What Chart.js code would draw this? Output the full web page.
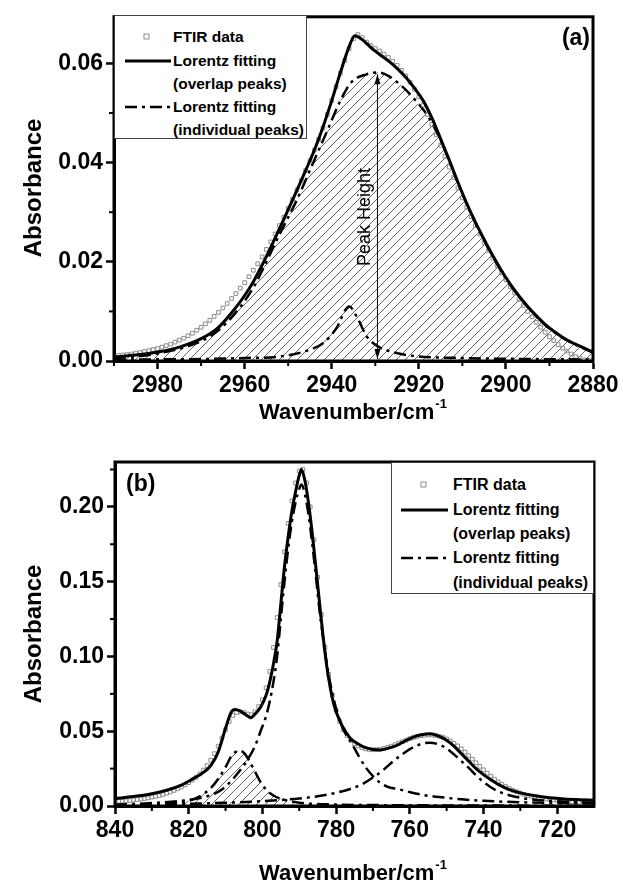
<!DOCTYPE html>
<html>
<head>
<meta charset="utf-8">
<script src="https://cdn.jsdelivr.net/npm/chart.js@4.4.1/dist/chart.umd.min.js"></script>
<style>
  html, body { margin: 0; padding: 0; background: #fff; }
  body { width: 623px; height: 890px; position: relative; overflow: hidden;
         font-family: 'Liberation Sans', Arial, Helvetica, sans-serif; color: #000; }
  .panel { position: absolute; left: 0; width: 623px; }
  .txt { position: absolute; white-space: nowrap; line-height: 1; }
  .ytitle { font-weight: bold; font-size: 24px; transform: translate(-50%, -50%) rotate(-90deg); }
  .xtitle { font-weight: bold; font-size: 22px; transform: translate(-50%, -50%); }
  .xtitle sup { font-size: 13px; vertical-align: 0; position: relative; top: -11px; margin-left: 1px; }
  .tag { font-weight: bold; font-size: 23px; transform: translateY(-50%); }
  .peak { font-size: 18px; transform: translate(-50%, -50%) rotate(-90deg); }
  .legend { position: absolute; background: #fff; border: 1px solid #444; box-sizing: border-box; }
  .legend .row { position: absolute; font-weight: bold; white-space: nowrap; line-height: 1; transform: translateY(-50%); }
  .legend svg { position: absolute; overflow: visible; }
</style>
</head>
<body>

<div class="panel" style="top:0;height:440px"><canvas id="chartA" width="623" height="440"></canvas></div>
<div class="panel" style="top:440px;height:450px"><canvas id="chartB" width="623" height="450"></canvas></div>

<!-- axis titles -->
<div class="txt ytitle" style="left:33px;top:188px">Absorbance</div>
<div class="txt xtitle" style="left:353px;top:412px">Wavenumber/cm<sup>-1</sup></div>
<div class="txt ytitle" style="left:33px;top:634px">Absorbance</div>
<div class="txt xtitle" style="left:353px;top:873px">Wavenumber/cm<sup>-1</sup></div>

<div class="txt tag" style="right:33px;top:37px">(a)</div>
<div class="txt tag" style="left:126px;top:483px">(b)</div>
<div class="txt peak" style="left:364px;top:217px">Peak Height</div>

<!-- legend (a) -->
<div class="legend" style="left:114px;top:15px;width:193px;height:124px;font-size:15.5px">
  <svg style="left:0;top:0" width="60" height="124">
    <rect x="29" y="18" width="5" height="5" fill="none" stroke="#8c8c8c" stroke-width="1"/>
    <line x1="10" y1="45" x2="56" y2="45" stroke="#000" stroke-width="3"/>
    <line x1="10" y1="91" x2="56" y2="91" stroke="#000" stroke-width="2.5" stroke-dasharray="12 5 3 5"/>
  </svg>
  <div class="row" style="left:58px;top:21px">FTIR data</div>
  <div class="row" style="left:58px;top:45px">Lorentz fitting</div>
  <div class="row" style="left:58px;top:68px">(overlap peaks)</div>
  <div class="row" style="left:58px;top:91px">Lorentz fitting</div>
  <div class="row" style="left:58px;top:114px">(individual peaks)</div>
</div>

<!-- legend (b) -->
<div class="legend" style="left:391px;top:462px;width:203px;height:132px;font-size:16px">
  <svg style="left:0;top:0" width="60" height="132">
    <rect x="29" y="19" width="5" height="5" fill="none" stroke="#8c8c8c" stroke-width="1"/>
    <line x1="9" y1="47" x2="56" y2="47" stroke="#000" stroke-width="3"/>
    <line x1="9" y1="95" x2="56" y2="95" stroke="#000" stroke-width="2.5" stroke-dasharray="12 5 3 5"/>
  </svg>
  <div class="row" style="left:61px;top:22px">FTIR data</div>
  <div class="row" style="left:61px;top:47px">Lorentz fitting</div>
  <div class="row" style="left:61px;top:71px">(overlap peaks)</div>
  <div class="row" style="left:61px;top:95px">Lorentz fitting</div>
  <div class="row" style="left:61px;top:120px">(individual peaks)</div>
</div>

<script>
/* =======================
   DATA (a) : C-H stretch region
======================= */

const aXTicks = { min: 2880, max: 2990, step: 20 };
const aYTicks = { min: 0, max: 0.0694, step: 0.02 };
const aMinorX = [2990, 2970, 2950, 2930, 2910, 2890];
const aMinorY = [0.01, 0.03, 0.05];

// FTIR data, one point per cm-1 from 2990 down to 2880
const aFtirStart = 2990;
const aFtirEnd = 2880;
const aFtir = [
  0.0010, 0.0011, 0.0012, 0.0013, 0.0014, 0.0016, 0.0017, 0.0019, 0.0021, 0.0023,
  0.0025, 0.0028, 0.0031, 0.0034, 0.0038, 0.0042, 0.0046, 0.0051, 0.0056, 0.0062,
  0.0068, 0.0075, 0.0082, 0.0090, 0.0098, 0.0107, 0.0116, 0.0126, 0.0136, 0.0147,
  0.0158, 0.0170, 0.0183, 0.0196, 0.0210, 0.0225, 0.0240, 0.0256, 0.0273, 0.0290,
  0.0308, 0.0326, 0.0345, 0.0364, 0.0384, 0.0404, 0.0425, 0.0447, 0.0470, 0.0497,
  0.0525, 0.0553, 0.0580, 0.0606, 0.0630, 0.0650, 0.0658, 0.0652, 0.0643, 0.0636,
  0.0630, 0.0625, 0.0619, 0.0612, 0.0604, 0.0596, 0.0586, 0.0575, 0.0562, 0.0548,
  0.0533, 0.0516, 0.0497, 0.0477, 0.0456, 0.0435, 0.0413, 0.0391, 0.0370, 0.0349,
  0.0329, 0.0310, 0.0291, 0.0273, 0.0256, 0.0239, 0.0223, 0.0207, 0.0192, 0.0178,
  0.0164, 0.0150, 0.0137, 0.0124, 0.0112, 0.0100, 0.0089, 0.0078, 0.0068, 0.0058,
  0.0049, 0.0041, 0.0033, 0.0026, 0.0020, 0.0014, 0.0009, 0.0005, 0.0002, 0.0001,
  0.0000
];

// Lorentz fitting (overlap peaks)
const aWaveFit = [2990, 2985, 2980, 2975, 2970, 2966, 2962, 2960, 2958, 2956,
  2954, 2952, 2950, 2948, 2946, 2944, 2942, 2940, 2938, 2936,
  2934.7, 2933, 2931, 2929, 2927, 2925, 2923, 2921, 2919, 2917,
  2915, 2913, 2911, 2909, 2907, 2905, 2903, 2901, 2899, 2897,
  2895, 2893, 2891, 2889, 2887, 2885, 2883, 2880];
const aOverlap = [0.0008, 0.0012, 0.0018, 0.0028, 0.0045, 0.0068, 0.0108, 0.0132, 0.016, 0.0193,
  0.0229, 0.0267, 0.0305, 0.0344, 0.0384, 0.0425, 0.0472, 0.0525, 0.0582, 0.0634,
  0.0656, 0.0648, 0.0632, 0.0618, 0.0605, 0.059, 0.0572, 0.055, 0.0525, 0.049,
  0.0448, 0.0405, 0.036, 0.0318, 0.028, 0.0245, 0.0212, 0.0182, 0.0155, 0.0131,
  0.011, 0.0091, 0.0074, 0.006, 0.0048, 0.0038, 0.003, 0.0018];

// individual peak, main (hatched)
const aWaveBig = [2990, 2980, 2970, 2966, 2962, 2958, 2955, 2952, 2948, 2944,
  2941, 2938, 2935.5, 2932, 2929.5, 2927, 2924, 2921, 2918, 2915,
  2913, 2911, 2909, 2907, 2905, 2903, 2901, 2899, 2897, 2895,
  2893, 2891, 2889, 2887, 2885, 2883, 2880];
const aBigPeak = [0.0005, 0.0015, 0.004, 0.0062, 0.0098, 0.0148, 0.020, 0.0255, 0.0325, 0.0405,
  0.0465, 0.0525, 0.0562, 0.0578, 0.0582, 0.0575, 0.0555, 0.0528, 0.0495, 0.0445,
  0.0403, 0.0358, 0.0316, 0.0278, 0.0243, 0.021, 0.018, 0.0153, 0.013, 0.0109,
  0.009, 0.0073, 0.0059, 0.0047, 0.0037, 0.0029, 0.0017];

// individual peak, small
const aWaveSmall = [2990, 2970, 2960, 2952, 2946, 2942, 2939, 2936, 2934, 2932, 2929.5, 2926, 2921, 2910, 2895, 2880];
const aSmallPeak = [0.0003, 0.0004, 0.0006, 0.0009, 0.002, 0.0036, 0.0065, 0.011, 0.0085, 0.005, 0.003, 0.0018, 0.001, 0.0006, 0.0004, 0.0003];

// peak height marker
const aPeakHeight = { x: 2929.5, top: 0.0578, bottom: 0.0004 };

/* =======================
   DATA (b) : 840-710 region
======================= */

const bXTicks = { min: 710, max: 840, step: 20 };
const bYTicks = { min: 0, max: 0.23, step: 0.05 };
const bMinorX = [830, 810, 790, 770, 750, 730];
const bMinorY = [0.025, 0.075, 0.125, 0.175, 0.225];

const bFtirStart = 840;
const bFtirEnd = 710;
const bFtir = [
  0.0030, 0.0031, 0.0033, 0.0035, 0.0037, 0.0040, 0.0043, 0.0046, 0.0050, 0.0054,
  0.0059, 0.0064, 0.0070, 0.0077, 0.0085, 0.0094, 0.0104, 0.0115, 0.0127, 0.0141,
  0.0156, 0.0173, 0.0192, 0.0214, 0.0240, 0.0270, 0.0306, 0.0350, 0.0400, 0.0455,
  0.0510, 0.0565, 0.0605, 0.0625, 0.0630, 0.0625, 0.0615, 0.0610, 0.0630, 0.0665,
  0.0710, 0.0790, 0.0900, 0.1060, 0.1260, 0.1480, 0.1700, 0.1890, 0.2040, 0.2160,
  0.2240, 0.2250, 0.2160, 0.2000, 0.1780, 0.1530, 0.1280, 0.1060, 0.0880, 0.0740,
  0.0640, 0.0565, 0.0510, 0.0470, 0.0440, 0.0418, 0.0402, 0.0390, 0.0382, 0.0378,
  0.0376, 0.0377, 0.0380, 0.0385, 0.0392, 0.0400, 0.0410, 0.0420, 0.0430, 0.0440,
  0.0450, 0.0458, 0.0465, 0.0470, 0.0473, 0.0475, 0.0475, 0.0472, 0.0466, 0.0458,
  0.0448, 0.0435, 0.0420, 0.0402, 0.0382, 0.0360, 0.0337, 0.0313, 0.0289, 0.0265,
  0.0242, 0.0220, 0.0199, 0.0179, 0.0161, 0.0145, 0.0130, 0.0117, 0.0105, 0.0095,
  0.0086, 0.0078, 0.0071, 0.0065, 0.0060, 0.0055, 0.0051, 0.0047, 0.0044, 0.0041,
  0.0038, 0.0035, 0.0033, 0.0031, 0.0029, 0.0027, 0.0026, 0.0025, 0.0024, 0.0023,
  0.0022
];

const bWaveFit = [840, 835, 830, 826, 822, 819, 816, 814, 812, 810,
  808.5, 807.5, 806, 804.5, 803.2, 802, 800.5, 799, 798, 797,
  796, 795, 794, 793, 792, 791, 790, 789.4, 788.5, 787.5,
  786.5, 785.5, 784.5, 783.5, 782.5, 781.5, 780.5, 779, 777.5, 776,
  774, 772, 770, 768, 766, 764, 762, 760, 758, 756,
  754.5, 752, 750, 748, 746, 744, 742, 740, 738, 736,
  733, 730, 726, 722, 718, 714, 710];
const bOverlap = [0.005, 0.0063, 0.0082, 0.0105, 0.014, 0.018, 0.0225, 0.027, 0.036, 0.052,
  0.0625, 0.0645, 0.0635, 0.061, 0.059, 0.0615, 0.066, 0.074, 0.083, 0.095,
  0.110, 0.135, 0.160, 0.180, 0.197, 0.210, 0.221, 0.225, 0.218, 0.203,
  0.183, 0.160, 0.136, 0.113, 0.093, 0.078, 0.067, 0.057, 0.050, 0.045,
  0.0415, 0.039, 0.0378, 0.0375, 0.0385, 0.040, 0.0425, 0.045, 0.047, 0.048,
  0.0483, 0.0465, 0.044, 0.040, 0.035, 0.030, 0.025, 0.021, 0.0175, 0.0145,
  0.011, 0.0088, 0.0068, 0.0055, 0.0047, 0.0042, 0.0038];

// individual peak near 806 (hatched)
const bWaveP1 = [840, 830, 825, 820, 817, 814, 812, 810, 808.5, 807, 806.3, 805, 803.5, 802, 800.5, 799, 797, 795, 790, 780, 760, 740, 710];
const bPeak1 = [0.0003, 0.001, 0.0018, 0.0035, 0.0065, 0.012, 0.018, 0.026, 0.033, 0.0365, 0.037, 0.0355, 0.030, 0.023, 0.016, 0.011, 0.007, 0.0048, 0.0022, 0.001, 0.0005, 0.0003, 0.0002];

// individual peak near 789
const bWaveP2 = [840, 830, 820, 815, 812, 810, 808, 806, 804, 802,
  800.5, 799, 798, 797, 796, 795, 794, 793, 792, 791,
  790, 789.4, 788.5, 787.5, 786.5, 785.5, 784.5, 783.5, 782.5, 781.5,
  780.5, 779.5, 778, 776, 774, 772, 770, 768, 766, 763,
  760, 756, 752, 746, 740, 736, 730, 720, 710];
const bPeak2 = [0.0008, 0.002, 0.004, 0.0065, 0.0095, 0.013, 0.018, 0.024, 0.031, 0.040,
  0.050, 0.060, 0.070, 0.083, 0.100, 0.125, 0.150, 0.172, 0.190, 0.203,
  0.212, 0.215, 0.209, 0.195, 0.176, 0.154, 0.131, 0.112, 0.095, 0.081,
  0.070, 0.061, 0.051, 0.043, 0.034, 0.026, 0.020, 0.0155, 0.0128, 0.0112,
  0.0093, 0.0072, 0.006, 0.0045, 0.0035, 0.003, 0.0025, 0.002, 0.0017];

// individual peak near 755
const bWaveP3 = [840, 820, 810, 800, 795, 790, 785, 780, 776, 773,
  770, 767, 764, 762, 760, 758, 756, 754.5, 752, 750,
  748, 746, 744, 742, 740, 738, 736, 733, 730, 726,
  720, 715, 710];
const bPeak3 = [0.0008, 0.0015, 0.0022, 0.0032, 0.004, 0.005, 0.0065, 0.0088, 0.0115, 0.0145,
  0.019, 0.0245, 0.031, 0.0345, 0.038, 0.0405, 0.042, 0.0423, 0.041, 0.0385,
  0.0345, 0.030, 0.0255, 0.0205, 0.016, 0.0125, 0.0098, 0.0072, 0.0055, 0.0042,
  0.0031, 0.0026, 0.0022];

/* =======================
   HELPERS
======================= */

Chart.defaults.font.family = "'Liberation Sans', Arial, Helvetica, sans-serif";
Chart.defaults.color = "#000";

function pairs(xs, ys) {
  return xs.map((x, i) => ({ x: x, y: ys[i] }));
}

function waveGrid(from, to) {
  const out = [];
  for (let w = from; w >= to; w--) out.push(w);
  return out;
}

function hatchPattern(ctx) {
  const tile = document.createElement("canvas");
  tile.width = 9;
  tile.height = 9;
  const g = tile.getContext("2d");
  g.strokeStyle = "#555";
  g.lineWidth = 0.9;
  g.beginPath();
  g.moveTo(0, 9); g.lineTo(9, 0);
  g.moveTo(-1, 1); g.lineTo(1, -1);
  g.moveTo(8, 10); g.lineTo(10, 8);
  g.stroke();
  return ctx.createPattern(tile, "repeat");
}

const ftirStyle = {
  showLine: false,
  pointStyle: "rect",
  pointRadius: 2.6,
  pointBorderWidth: 1,
  pointBorderColor: "#8c8c8c",
  pointBackgroundColor: "rgba(255,255,255,0)",
  order: 3
};
const fitStyle = {
  borderColor: "#000",
  borderWidth: 3,
  pointRadius: 0,
  fill: false,
  cubicInterpolationMode: "monotone",
  order: 1
};
const dashStyle = {
  borderColor: "#000",
  borderWidth: 2.5,
  borderDash: [12, 5, 3, 5],
  pointRadius: 0,
  fill: false,
  cubicInterpolationMode: "monotone",
  order: 2
};

// frame on all four sides + short minor ticks
const framePlugin = {
  id: "frame",
  afterDraw(chart, args, opts) {
    const { ctx, chartArea: a, scales } = chart;
    ctx.save();
    ctx.strokeStyle = "#000";
    ctx.lineWidth = 2;
    (opts.minorX || []).forEach(v => {
      const px = scales.x.getPixelForValue(v);
      ctx.beginPath(); ctx.moveTo(px, a.bottom); ctx.lineTo(px, a.bottom + 5); ctx.stroke();
    });
    (opts.minorY || []).forEach(v => {
      const py = scales.y.getPixelForValue(v);
      ctx.beginPath(); ctx.moveTo(a.left - 5, py); ctx.lineTo(a.left, py); ctx.stroke();
    });
    ctx.lineWidth = 3;
    ctx.strokeRect(a.left, a.top, a.right - a.left, a.bottom - a.top);
    ctx.restore();
  }
};

// vertical "peak height" arrow
const arrowPlugin = {
  id: "peakArrow",
  afterDatasetsDraw(chart, args, opts) {
    if (!opts || opts.x == null) return;
    const { ctx, scales } = chart;
    const px = scales.x.getPixelForValue(opts.x);
    const top = scales.y.getPixelForValue(opts.top);
    const bot = scales.y.getPixelForValue(opts.bottom);
    ctx.save();
    ctx.strokeStyle = "#000";
    ctx.fillStyle = "#000";
    ctx.lineWidth = 1;
    ctx.beginPath(); ctx.moveTo(px, top); ctx.lineTo(px, bot); ctx.stroke();
    ctx.beginPath(); ctx.moveTo(px, bot); ctx.lineTo(px - 3, bot - 10); ctx.lineTo(px + 3, bot - 10); ctx.closePath(); ctx.fill();
    ctx.beginPath(); ctx.moveTo(px, top); ctx.lineTo(px - 3, top + 10); ctx.lineTo(px + 3, top + 10); ctx.closePath(); ctx.fill();
    ctx.restore();
  }
};

function makeScales(xt, yt, xHeight, yWidth) {
  const tickFont = { size: 23, weight: "bold" };
  return {
    x: {
      type: "linear",
      reverse: true,
      min: xt.min,
      max: xt.max,
      afterFit: s => { s.height = xHeight; },
      border: { display: true, color: "#000", width: 3 },
      grid: { drawOnChartArea: false, drawTicks: true, tickLength: 8, tickWidth: 2.5, tickColor: "#000" },
      ticks: {
        stepSize: xt.step, includeBounds: false, autoSkip: false, maxRotation: 0,
        padding: 3, font: tickFont, color: "#000",
        callback: v => String(v)
      }
    },
    y: {
      type: "linear",
      min: yt.min,
      max: yt.max,
      afterFit: s => { s.width = yWidth; },
      border: { display: true, color: "#000", width: 3 },
      grid: { drawOnChartArea: false, drawTicks: true, tickLength: 8, tickWidth: 2.5, tickColor: "#000" },
      ticks: {
        stepSize: yt.step, includeBounds: false, autoSkip: false,
        padding: 3, font: tickFont, color: "#000",
        callback: v => v.toFixed(2)
      }
    }
  };
}

/* =======================
   CHART (a)
======================= */

const ctxA = document.getElementById("chartA").getContext("2d");

new Chart(ctxA, {
  type: "line",
  data: {
    datasets: [
      { label: "FTIR data", data: pairs(waveGrid(aFtirStart, aFtirEnd), aFtir), ...ftirStyle },
      { label: "Lorentz fitting (overlap peaks)", data: pairs(aWaveFit, aOverlap), ...fitStyle },
      { label: "Lorentz fitting (individual peaks)", data: pairs(aWaveBig, aBigPeak), ...dashStyle,
        fill: "origin", backgroundColor: hatchPattern(ctxA), order: 4 },
      { label: "Lorentz fitting (individual peaks)", data: pairs(aWaveSmall, aSmallPeak), ...dashStyle }
    ]
  },
  options: {
    responsive: false,
    animation: false,
    devicePixelRatio: 1,
    layout: { padding: { left: 0, top: 16, right: 30, bottom: 0 } },
    scales: makeScales(aXTicks, aYTicks, 79, 114),
    plugins: {
      legend: { display: false },
      tooltip: { enabled: false },
      frame: { minorX: aMinorX, minorY: aMinorY },
      peakArrow: aPeakHeight
    }
  },
  plugins: [framePlugin, arrowPlugin]
});

/* =======================
   CHART (b)
======================= */

const ctxB = document.getElementById("chartB").getContext("2d");

new Chart(ctxB, {
  type: "line",
  data: {
    datasets: [
      { label: "FTIR data", data: pairs(waveGrid(bFtirStart, bFtirEnd), bFtir), ...ftirStyle },
      { label: "Lorentz fitting (overlap peaks)", data: pairs(bWaveFit, bOverlap), ...fitStyle },
      { label: "Lorentz fitting (individual peaks)", data: pairs(bWaveP1, bPeak1), ...dashStyle,
        fill: "origin", backgroundColor: hatchPattern(ctxB), order: 4 },
      { label: "Lorentz fitting (individual peaks)", data: pairs(bWaveP2, bPeak2), ...dashStyle },
      { label: "Lorentz fitting (individual peaks)", data: pairs(bWaveP3, bPeak3), ...dashStyle }
    ]
  },
  options: {
    responsive: false,
    animation: false,
    devicePixelRatio: 1,
    layout: { padding: { left: 0, top: 22, right: 29, bottom: 0 } },
    scales: makeScales(bXTicks, bYTicks, 84, 115),
    plugins: {
      legend: { display: false },
      tooltip: { enabled: false },
      frame: { minorX: bMinorX, minorY: bMinorY }
    }
  },
  plugins: [framePlugin]
});
</script>
</body>
</html>
